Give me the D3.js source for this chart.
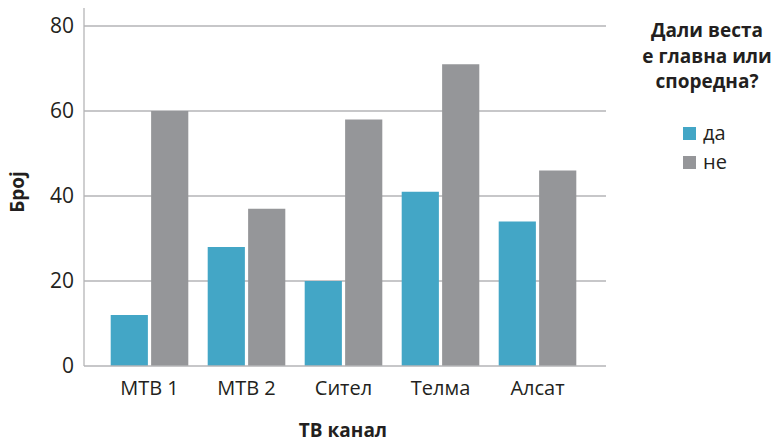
<!DOCTYPE html>
<html>
<head>
<meta charset="utf-8">
<script src="https://cdn.jsdelivr.net/npm/d3@7"></script>
<style>
  body { margin: 0; background: #fff; }
  svg { font-family: "Open Sans", sans-serif; }
</style>
</head>
<body>
<div id="chart"></div>
<script>
var width = 775;
var height = 443;

var categories = ["МТВ 1", "МТВ 2", "Сител", "Телма", "Алсат"];
var seriesNames = ["да", "не"];
var daValues = [12, 28, 20, 41, 34];
var neValues = [60, 37, 58, 71, 46];
var yTicks = [0, 20, 40, 60, 80];
var colors = ["#43a6c6", "#959699"];

var svg = d3.select("#chart")
    .append("svg")
    .attr("width", width)
    .attr("height", height);

var y = d3.scaleLinear().domain([0, 80]).range([366, 26]);

var x0 = d3.scaleBand()
    .domain(categories)
    .range([101, 586])
    .paddingInner(0.2)
    .paddingOuter(0.1);

var x1 = d3.scaleBand()
    .domain(seriesNames)
    .range([0, x0.bandwidth()])
    .paddingInner(0.08);

var color = d3.scaleOrdinal().domain(seriesNames).range(colors);

// gridlines
svg.append("g")
    .selectAll("line")
    .data(yTicks.filter(function(d) { return d > 0; }))
    .enter().append("line")
      .attr("x1", 84)
      .attr("x2", 606)
      .attr("y1", function(d) { return y(d); })
      .attr("y2", function(d) { return y(d); })
      .attr("stroke", "#b5b5b7")
      .attr("stroke-width", 1.3);

// y axis
var yAxis = svg.append("g")
    .attr("transform", "translate(84,0)")
    .call(d3.axisLeft(y).tickValues(yTicks).tickSize(0).tickPadding(10));
yAxis.select(".domain").attr("stroke", "#b5b5b7").attr("stroke-width", 1.3)
    .attr("d", "M0,8V366");
yAxis.selectAll("text")
    .attr("font-size", 21)
    .attr("fill", "#231f20")
    .attr("font-family", "Open Sans, sans-serif");

// bars
var rows = categories.map(function(c, i) {
  return { cat: c, values: [ { key: "да", value: daValues[i] }, { key: "не", value: neValues[i] } ] };
});

var group = svg.append("g")
  .selectAll("g")
  .data(rows)
  .enter().append("g")
    .attr("transform", function(d) { return "translate(" + x0(d.cat) + ",0)"; });

group.selectAll("rect")
    .data(function(d) { return d.values; })
    .enter().append("rect")
      .attr("x", function(d) { return x1(d.key); })
      .attr("y", function(d) { return y(d.value); })
      .attr("width", x1.bandwidth())
      .attr("height", function(d) { return y(0) - y(d.value); })
      .attr("fill", function(d) { return color(d.key); });

// x axis line
var xAxis = svg.append("g")
    .attr("transform", "translate(0,366)")
    .call(d3.axisBottom(x0).tickSize(0).tickPadding(15));
xAxis.select(".domain").attr("stroke", "#b5b5b7").attr("stroke-width", 1.3)
    .attr("d", "M84,0H606");
xAxis.selectAll("text")
    .attr("font-size", 20)
    .attr("fill", "#231f20")
    .attr("font-family", "Open Sans, sans-serif");

// axis titles
svg.append("text")
    .attr("x", 343)
    .attr("y", 437)
    .attr("text-anchor", "middle")
    .attr("font-size", 19)
    .attr("font-weight", "bold")
    .attr("fill", "#231f20")
    .text("ТВ канал");

svg.append("text")
    .attr("transform", "translate(24,192) rotate(-90)")
    .attr("text-anchor", "middle")
    .attr("font-size", 19)
    .attr("font-weight", "bold")
    .attr("fill", "#231f20")
    .text("Број");

// legend
var legendTitle = ["Дали веста", "е главна или", "споредна?"];
svg.append("g")
  .selectAll("text")
  .data(legendTitle)
  .enter().append("text")
    .attr("x", 707)
    .attr("y", function(d, i) { return 37 + i * 25.5; })
    .attr("text-anchor", "middle")
    .attr("font-size", 19)
    .attr("font-weight", "bold")
    .attr("fill", "#231f20")
    .text(function(d) { return d; });

var legend = svg.append("g")
  .selectAll("g")
  .data(seriesNames)
  .enter().append("g")
    .attr("transform", function(d, i) { return "translate(683," + (127 + i * 29) + ")"; });

legend.append("rect")
    .attr("width", 13)
    .attr("height", 13)
    .attr("fill", function(d) { return color(d); });

legend.append("text")
    .attr("x", 20)
    .attr("y", 13)
    .attr("font-size", 20)
    .attr("fill", "#231f20")
    .text(function(d) { return d; });
</script>
</body>
</html>
